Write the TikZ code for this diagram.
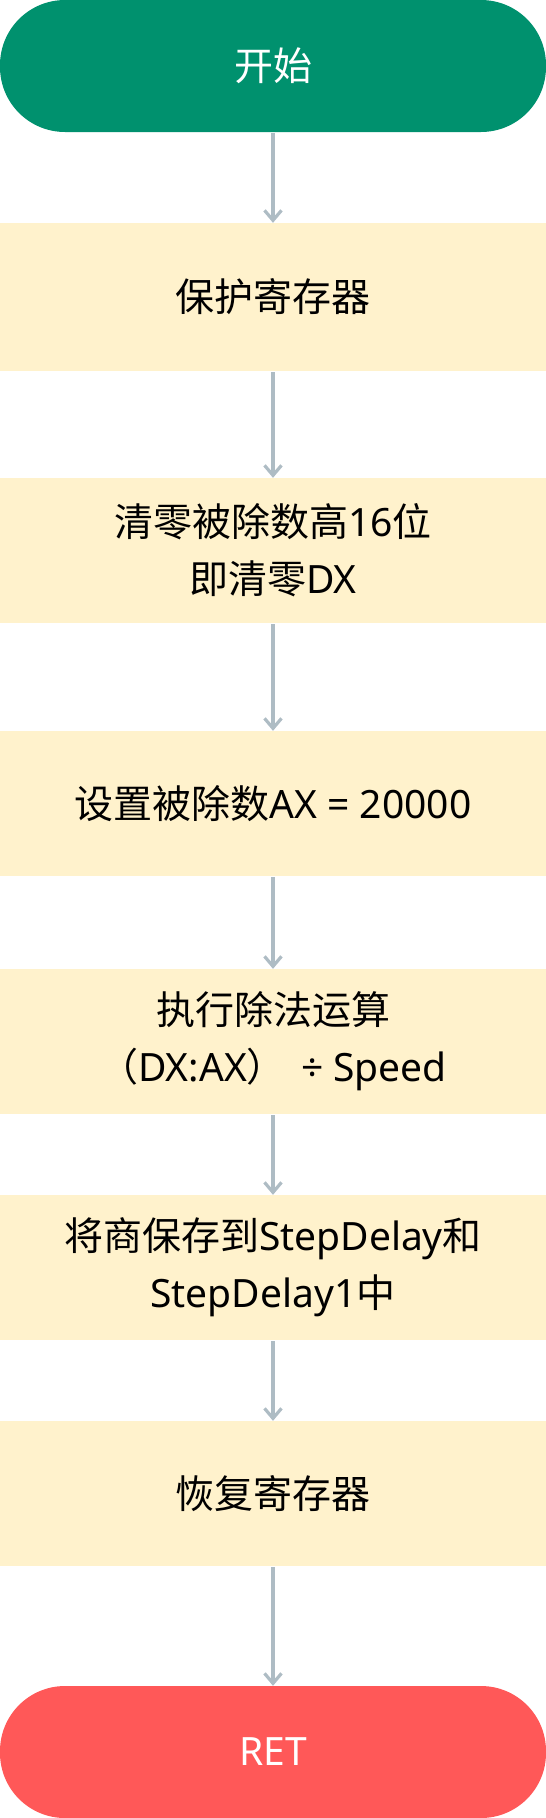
\documentclass[tikz,border=0pt]{standalone}
\usepackage{fontspec}
\setmainfont{Noto Sans CJK SC}
\newfontfamily\lat{Noto Sans}
\usetikzlibrary{arrows.meta}
\definecolor{startgreen}{RGB}{0,145,110}
\definecolor{endred}{RGB}{255,88,88}
\definecolor{boxfill}{RGB}{255,242,204}
\definecolor{arrowgrey}{RGB}{174,188,196}
\tikzset{
  txt/.style={font=\fontsize{39}{57}\selectfont, align=center},
  terminal/.style={txt, rectangle, rounded corners=65pt, minimum width=546pt, minimum height=132pt, inner sep=0pt, text=white},
  procbox/.style={txt, rectangle, fill=boxfill, minimum width=546pt, inner sep=0pt, text=black},
  arr/.style={draw=arrowgrey, line width=3.2pt, -{Straight Barb[length=10pt,width=17pt,line width=3.2pt]}}
}
\begin{document}
\begin{tikzpicture}[x=1pt,y=-1pt]
\useasboundingbox (0,0) rectangle (546,1818);
\node[terminal, fill=startgreen] (start) at (273,66) {开始};
\node[procbox, minimum height=148pt] (b1) at (273,297) {保护寄存器};
\node[procbox, minimum height=145pt] (b2) at (273,550.5) {清零被除数高{\lat 16}位\\即清零{\lat DX}};
\node[procbox, minimum height=145pt] (b3) at (273,803.5) {设置被除数{\lat AX = 20000}};
\node[procbox, minimum height=145pt] (b4) at (273,1041.5) {执行除法运算\\（{\lat DX:AX}）\hspace{5pt}{\lat{} ÷ Speed}};
\node[procbox, minimum height=145pt] (b5) at (273,1267.5) {将商保存到{\lat StepDelay}和\\{\lat StepDelay1}中};
\node[procbox, minimum height=145pt] (b6) at (273,1493.5) {恢复寄存器};
\node[terminal, fill=endred] (end) at (273,1752) {\lat RET};
\draw[arr] ([yshift=-1pt]start.south) -- (b1.north);
\draw[arr] ([yshift=-1pt]b1.south) -- (b2.north);
\draw[arr] ([yshift=-1pt]b2.south) -- (b3.north);
\draw[arr] ([yshift=-1pt]b3.south) -- (b4.north);
\draw[arr] ([yshift=-1pt]b4.south) -- (b5.north);
\draw[arr] ([yshift=-1pt]b5.south) -- (b6.north);
\draw[arr] ([yshift=-1pt]b6.south) -- (end.north);
\end{tikzpicture}
\end{document}
